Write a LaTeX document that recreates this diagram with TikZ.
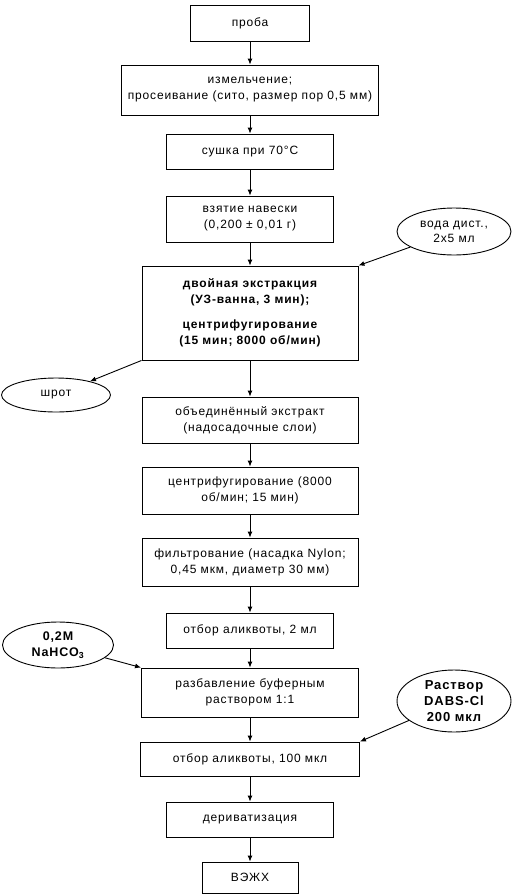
\documentclass[tikz,border=0pt]{standalone}
\usepackage{fontspec}
\setmainfont[LetterSpace=7]{Liberation Sans}
\usetikzlibrary{shapes.geometric,arrows.meta}

\begin{document}
\begin{tikzpicture}[x=1pt, y=-1pt, line width=0.9pt,
  stepbox/.style={draw, rectangle, align=center, inner sep=1pt,
    font=\fontsize{12}{16}\selectfont},
  ovalbox/.style={draw, ellipse, align=center, inner sep=0pt,
    font=\fontsize{12}{15}\selectfont},
  link/.style={-{Latex[length=6pt,width=5pt]}}]
  \useasboundingbox (0,0) rectangle (512,895);

  % --- main column ---
  \node[stepbox, minimum width=119, minimum height=36] (proba) at (250,23) {проба};
  \node[stepbox, minimum width=257, minimum height=50] (grind) at (250,90)
    {измельчение;\\просеивание (сито, размер пор 0,5 мм)};
  \node[stepbox, minimum width=167, minimum height=35] (dry) at (250,151.5) {сушка при 70°C};
  \node[stepbox, minimum width=167, minimum height=46] (weigh) at (250,219)
    {взятие навески\\(0,200 ± 0,01 г)};
  \node[stepbox, minimum width=216, minimum height=94, font=\fontsize{12}{16}\selectfont\bfseries] (extr) at (250,313)
    {двойная экстракция\\(УЗ-ванна, 3 мин);\\[9pt]центрифугирование\\(15 мин; 8000 об/мин)};
  \node[stepbox, minimum width=216, minimum height=46] (pool) at (250,420)
    {объединённый экстракт\\(надосадочные слои)};
  \node[stepbox, minimum width=216, minimum height=47] (centr) at (250,490.5)
    {центрифугирование (8000\\об/мин; 15 мин)};
  \node[stepbox, minimum width=216, minimum height=48] (filt) at (250,562)
    {фильтрование (насадка Nylon;\\0,45 мкм, диаметр 30 мм)};
  \node[stepbox, minimum width=167, minimum height=35] (aliq) at (250,630.5) {отбор аликвоты, 2 мл};
  \node[stepbox, minimum width=217, minimum height=49] (dil) at (250,692.5)
    {разбавление буферным\\раствором 1:1};
  \node[stepbox, minimum width=219, minimum height=34] (aliqb) at (250,759) {отбор аликвоты, 100 мкл};
  \node[stepbox, minimum width=167, minimum height=35] (deriv) at (250,819.5) {дериватизация};
  \node[stepbox, minimum width=96, minimum height=31] (hplc) at (250,877.5) {ВЭЖХ};

  % --- side inputs / outputs ---
  \node[ovalbox, minimum width=114, minimum height=47] (water) at (454,231.5) {вода дист.,\\2х5 мл};
  \node[ovalbox, minimum width=109, minimum height=34] (meal) at (56,395) {шрот};
  \node[ovalbox, minimum width=111, minimum height=46, font=\fontsize{12.5}{16}\selectfont\bfseries] (buff) at (58,645)
    {0,2M\\NaHCO\textsubscript{3}};
  \node[ovalbox, minimum width=114, minimum height=62, font=\fontsize{13}{16}\selectfont\bfseries] (dabs) at (454,701)
    {Раствор\\DABS-Cl\\200 мкл};

  % === arrows ===
  \draw[link] (proba) -- (grind);
  \draw[link] (grind) -- (dry);
  \draw[link] (dry) -- (weigh);
  \draw[link] (weigh) -- (extr);
  \draw[link] (extr) -- (pool);
  \draw[link] (pool) -- (centr);
  \draw[link] (centr) -- (filt);
  \draw[link] (filt) -- (aliq);
  \draw[link] (aliq) -- (dil);
  \draw[link] (dil) -- (aliqb);
  \draw[link] (aliqb) -- (deriv);
  \draw[link] (deriv) -- (hplc);

  \draw[link] (water) -- (extr.north east);
  \draw[link] (extr.south west) -- (meal);
  \draw[link] (buff) -- (dil.north west);
  \draw[link] (dabs) -- (aliqb.north east);
\end{tikzpicture}
\end{document}
